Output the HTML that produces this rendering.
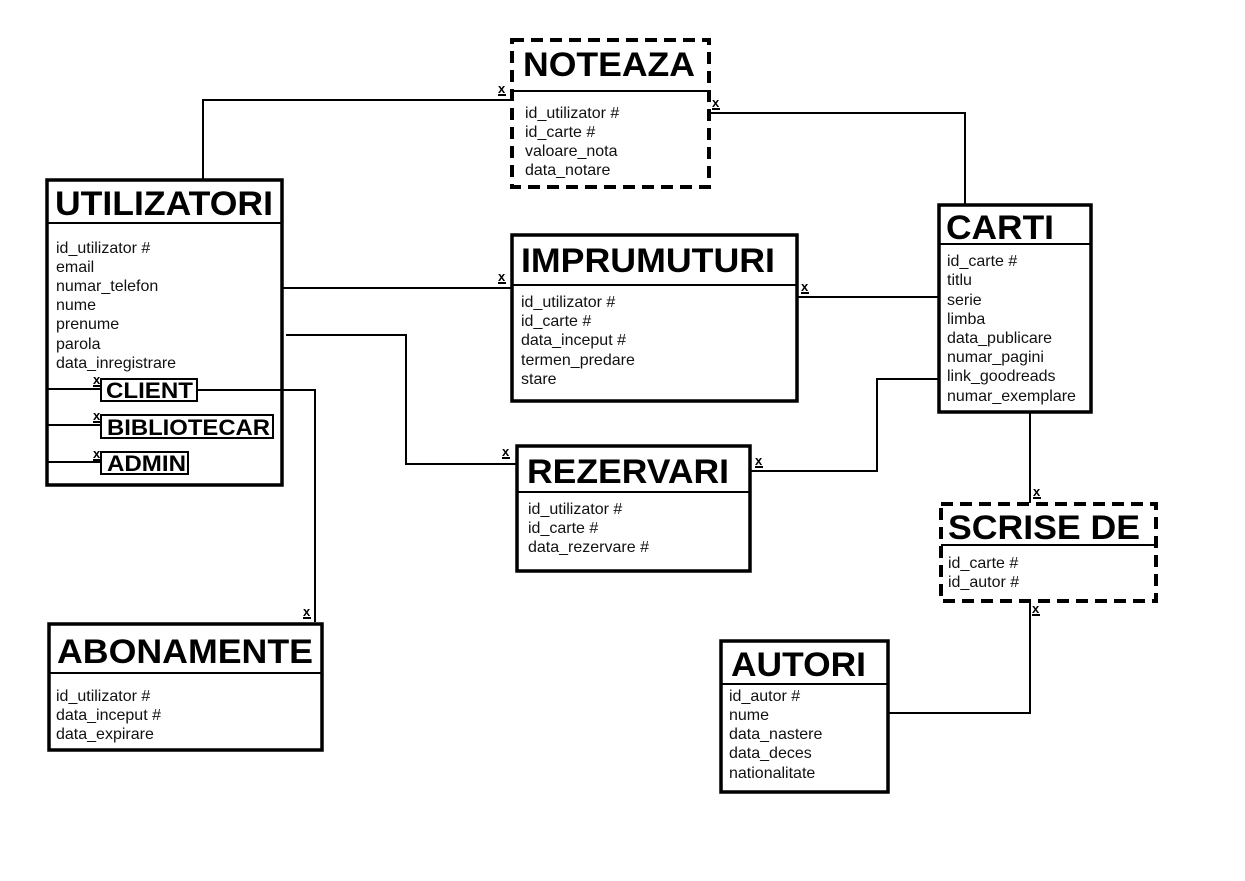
<!DOCTYPE html>
<html><head><meta charset="utf-8"><style>
html,body{margin:0;padding:0;background:#fff;}
svg{display:block;}
.t{font-family:"Liberation Sans",Arial,sans-serif;font-weight:bold;font-size:34px;fill:#000;}
.s{font-family:"Liberation Sans",Arial,sans-serif;font-weight:bold;font-size:22px;fill:#000;}
.a{font-family:"Liberation Sans",Arial,sans-serif;font-size:16px;fill:#111;}
.m{font-family:"Liberation Sans",Arial,sans-serif;font-weight:bold;font-size:13px;fill:#000;}
</style></head><body>
<svg width="1245" height="881" viewBox="0 0 1245 881" xmlns="http://www.w3.org/2000/svg">
<g fill="none" stroke="#000" stroke-width="2">
<polyline points="203,179 203,100 511,100"/>
<polyline points="709,113 965,113 965,204"/>
<line x1="283" y1="288" x2="511" y2="288"/>
<line x1="797" y1="297" x2="938" y2="297"/>
<polyline points="286,335 406,335 406,464 516,464"/>
<polyline points="751,471 877,471 877,379 938,379"/>
<line x1="1030" y1="413" x2="1030" y2="503"/>
<polyline points="1030,601 1030,713 889,713"/>
<polyline points="197,390 315,390 315,622"/>
<line x1="46" y1="389" x2="101" y2="389"/>
<line x1="46" y1="425" x2="101" y2="425"/>
<line x1="46" y1="462" x2="101" y2="462"/>
</g>
<g>
<text class="m" x="498" y="93">x</text><line x1="498" y1="95" x2="506" y2="95" stroke="#000" stroke-width="2"/>
<text class="m" x="712" y="107">x</text><line x1="712" y1="109" x2="720" y2="109" stroke="#000" stroke-width="2"/>
<text class="m" x="498" y="281">x</text><line x1="498" y1="283" x2="506" y2="283" stroke="#000" stroke-width="2"/>
<text class="m" x="801" y="291">x</text><line x1="801" y1="293" x2="809" y2="293" stroke="#000" stroke-width="2"/>
<text class="m" x="502" y="456">x</text><line x1="502" y1="458" x2="510" y2="458" stroke="#000" stroke-width="2"/>
<text class="m" x="755" y="465">x</text><line x1="755" y1="467" x2="763" y2="467" stroke="#000" stroke-width="2"/>
<text class="m" x="1033" y="496">x</text><line x1="1033" y1="498" x2="1041" y2="498" stroke="#000" stroke-width="2"/>
<text class="m" x="1032" y="613">x</text><line x1="1032" y1="615" x2="1040" y2="615" stroke="#000" stroke-width="2"/>
<text class="m" x="303" y="616">x</text><line x1="303" y1="618" x2="311" y2="618" stroke="#000" stroke-width="2"/>
<text class="m" x="93" y="384">x</text><line x1="93" y1="386" x2="100" y2="386" stroke="#000" stroke-width="2"/>
<text class="m" x="93" y="420">x</text><line x1="93" y1="422" x2="100" y2="422" stroke="#000" stroke-width="2"/>
<text class="m" x="93" y="458">x</text><line x1="93" y1="460" x2="100" y2="460" stroke="#000" stroke-width="2"/>
</g>

<rect x="47" y="180" width="235" height="305" fill="none" stroke="#000" stroke-width="3.5"/>
<line x1="47" y1="223" x2="282" y2="223" stroke="#000" stroke-width="2"/>
<text class="t" x="55" y="215" textLength="218" lengthAdjust="spacingAndGlyphs">UTILIZATORI</text>
<g class="a"><text x="56" y="253">id_utilizator #</text><text x="56" y="272">email</text><text x="56" y="291">numar_telefon</text><text x="56" y="310">nume</text><text x="56" y="329">prenume</text><text x="56" y="349">parola</text><text x="56" y="368">data_inregistrare</text></g>
<rect x="101" y="379" width="96" height="22" fill="#fff" stroke="#000" stroke-width="2"/>
<text class="s" x="106" y="398" textLength="87" lengthAdjust="spacingAndGlyphs">CLIENT</text>
<rect x="101" y="415" width="172" height="23" fill="#fff" stroke="#000" stroke-width="2"/>
<text class="s" x="107" y="435" textLength="163" lengthAdjust="spacingAndGlyphs">BIBLIOTECAR</text>
<rect x="101" y="452" width="87" height="22" fill="#fff" stroke="#000" stroke-width="2"/>
<text class="s" x="107" y="471" textLength="79" lengthAdjust="spacingAndGlyphs">ADMIN</text>

<rect x="512" y="40" width="197" height="147" fill="none" stroke="#000" stroke-width="4" stroke-dasharray="12,7"/>
<line x1="512" y1="91" x2="709" y2="91" stroke="#000" stroke-width="2"/>
<text class="t" x="523" y="76" textLength="172" lengthAdjust="spacingAndGlyphs">NOTEAZA</text>
<g class="a"><text x="525" y="118">id_utilizator #</text><text x="525" y="137">id_carte #</text><text x="525" y="156">valoare_nota</text><text x="525" y="175">data_notare</text></g>

<rect x="512" y="235" width="285" height="166" fill="none" stroke="#000" stroke-width="3.5"/>
<line x1="512" y1="285" x2="797" y2="285" stroke="#000" stroke-width="2"/>
<text class="t" x="521" y="272" textLength="254" lengthAdjust="spacingAndGlyphs">IMPRUMUTURI</text>
<g class="a"><text x="521" y="307">id_utilizator #</text><text x="521" y="326">id_carte #</text><text x="521" y="345">data_inceput #</text><text x="521" y="365">termen_predare</text><text x="521" y="384">stare</text></g>

<rect x="939" y="205" width="152" height="207" fill="none" stroke="#000" stroke-width="3.5"/>
<line x1="939" y1="244" x2="1091" y2="244" stroke="#000" stroke-width="2"/>
<text class="t" x="946" y="239" textLength="108" lengthAdjust="spacingAndGlyphs">CARTI</text>
<g class="a"><text x="947" y="266">id_carte #</text><text x="947" y="285">titlu</text><text x="947" y="305">serie</text><text x="947" y="324">limba</text><text x="947" y="343">data_publicare</text><text x="947" y="362">numar_pagini</text><text x="947" y="381">link_goodreads</text><text x="947" y="401">numar_exemplare</text></g>

<rect x="517" y="446" width="233" height="125" fill="none" stroke="#000" stroke-width="3.5"/>
<line x1="517" y1="492" x2="750" y2="492" stroke="#000" stroke-width="2"/>
<text class="t" x="527" y="483" textLength="202" lengthAdjust="spacingAndGlyphs">REZERVARI</text>
<g class="a"><text x="528" y="514">id_utilizator #</text><text x="528" y="533">id_carte #</text><text x="528" y="552">data_rezervare #</text></g>

<rect x="941" y="504" width="215" height="97" fill="none" stroke="#000" stroke-width="4" stroke-dasharray="12,7"/>
<line x1="941" y1="545" x2="1156" y2="545" stroke="#000" stroke-width="2"/>
<text class="t" x="948" y="539" textLength="192" lengthAdjust="spacingAndGlyphs">SCRISE DE</text>
<g class="a"><text x="948" y="568">id_carte #</text><text x="948" y="587">id_autor #</text></g>

<rect x="721" y="641" width="167" height="151" fill="none" stroke="#000" stroke-width="3.5"/>
<line x1="721" y1="684" x2="888" y2="684" stroke="#000" stroke-width="2"/>
<text class="t" x="731" y="676" textLength="135" lengthAdjust="spacingAndGlyphs">AUTORI</text>
<g class="a"><text x="729" y="701">id_autor #</text><text x="729" y="720">nume</text><text x="729" y="739">data_nastere</text><text x="729" y="758">data_deces</text><text x="729" y="778">nationalitate</text></g>

<rect x="49" y="624" width="273" height="126" fill="none" stroke="#000" stroke-width="3.5"/>
<line x1="49" y1="673" x2="322" y2="673" stroke="#000" stroke-width="2"/>
<text class="t" x="57" y="663" textLength="256" lengthAdjust="spacingAndGlyphs">ABONAMENTE</text>
<g class="a"><text x="56" y="701">id_utilizator #</text><text x="56" y="720">data_inceput #</text><text x="56" y="739">data_expirare</text></g>
</svg>
</body></html>
